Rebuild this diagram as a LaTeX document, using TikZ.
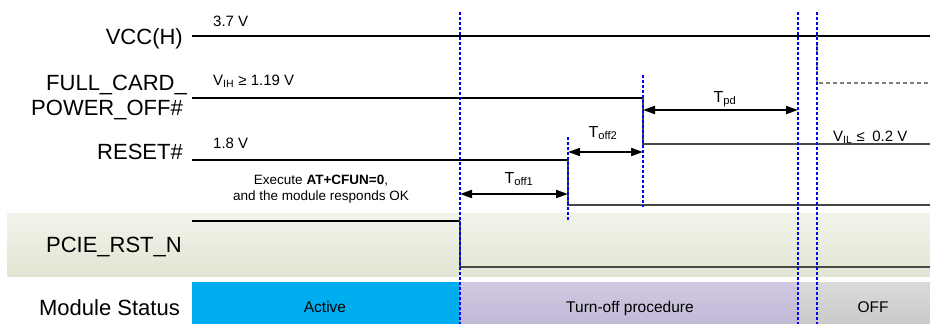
\documentclass[tikz,border=0pt]{standalone}
\usepackage{fontspec}
\setmainfont{Liberation Sans}
\usetikzlibrary{arrows.meta}
% time marks (px)
\newcommand*{\tStart}{192}
\newcommand*{\tCfun}{460}
\newcommand*{\tRst}{568}
\newcommand*{\tOff}{643}
\newcommand*{\tPd}{798}
\newcommand*{\tVcc}{817}
\newcommand*{\xEnd}{930}
% signal levels (px, downwards)
\newcommand*{\yVcc}{36}
\newcommand*{\yFcHi}{98}
\newcommand*{\yFcLo}{144}
\newcommand*{\yRsHi}{160}
\newcommand*{\yRsLo}{205}
\newcommand*{\yPcHi}{221}
\newcommand*{\yPcLo}{267}
\definecolor{bandtop}{RGB}{242,244,234}
\definecolor{bandbot}{RGB}{225,229,210}
\definecolor{activefill}{RGB}{0,174,239}
\definecolor{turntop}{RGB}{209,202,226}
\definecolor{turnbot}{RGB}{193,184,214}
\definecolor{offtop}{RGB}{218,218,218}
\definecolor{offbot}{RGB}{202,202,202}
\tikzset{
  sighi/.style={line width=2.6pt,black},
  siglo/.style={line width=2.2pt,black!72},
  tmark/.style={blue,line width=1.6pt,dash pattern=on 3pt off 2pt},
  tspan/.style={line width=2pt,{Triangle[length=12pt,width=8pt]}-{Triangle[length=12pt,width=8pt]}},
  siglabel/.style={anchor=base east,inner sep=0pt,font=\fontsize{22}{24}\selectfont},
  vlabel/.style={anchor=base west,inner sep=0pt,font=\fontsize{15}{18}\selectfont},
  tlabel/.style={anchor=base,inner sep=0pt,font=\fontsize{16}{18}\selectfont},
  stlabel/.style={anchor=base,inner sep=0pt,font=\fontsize{15.5}{18}\selectfont}
}

\begin{document}
\begin{tikzpicture}[x=1pt,y=-1pt]
    \useasboundingbox (0,0) rectangle (\xEnd,324);
    % backgrounds
    \shade [top color=bandtop,bottom color=bandbot] (7,213) rectangle (\xEnd,276);
    \fill [activefill] (\tStart,282) rectangle (\tCfun,324);
    \shade [top color=turntop,bottom color=turnbot] (\tCfun,282) rectangle (\tPd,324);
    \shade [top color=offtop,bottom color=offbot] (\tPd,282) rectangle (\xEnd,324);

    % signals
    \draw [sighi] (\tStart,\yVcc) -- (\xEnd,\yVcc);
    \draw [sighi] (\tStart,\yFcHi) -- (\tOff,\yFcHi);
    \draw [siglo] (\tOff,\yFcHi) -- (\tOff,\yFcLo) -- (\xEnd,\yFcLo);
    \draw [gray,line width=1.5pt,dash pattern=on 4pt off 3pt] (\tVcc,\yVcc) -- (\tVcc,83) -- (\xEnd,83);
    \draw [sighi] (\tStart,\yRsHi) -- (\tRst,\yRsHi);
    \draw [siglo] (\tRst,\yRsHi) -- (\tRst,\yRsLo) -- (\xEnd,\yRsLo);
    \draw [sighi] (\tStart,\yPcHi) -- (\tCfun,\yPcHi);
    \draw [siglo] (\tCfun,\yPcHi) -- (\tCfun,\yPcLo) -- (\xEnd,\yPcLo);

    % time marks
    \foreach \x/\ya/\yb in {\tCfun/12/324,\tRst/137/220,\tOff/75/207,\tPd/12/324,\tVcc/12/324} {
        \draw [tmark] (\x,\ya) -- (\x,\yb);
    }

    \coordinate (off1a) at (\tCfun,194);
    \coordinate (off1b) at (\tRst,194);
    \coordinate (off2a) at (\tRst,152);
    \coordinate (off2b) at (\tOff,152);
    \coordinate (pda) at (\tOff,110);
    \coordinate (pdb) at (\tPd,110);
    \draw [tspan] (off1a) -- (off1b);
    \draw [tspan] (off2a) -- (off2b);
    \draw [tspan] (pda) -- (pdb);
    \node [tlabel] (toff1) at (519,183) {T\textsubscript{off1}};
    \node [tlabel] (toff2) at (603,137) {T\textsubscript{off2}};
    \node [tlabel] (tpd) at (725,102) {T\textsubscript{pd}};

    % signal names
    \node [siglabel] (vcc) at (183,44) {VCC(H)};
    \node [siglabel] (fullcard) at (187,90) {FULL\_CARD\_};
    \node [siglabel] (poweroff) at (183,115) {POWER\_OFF\#};
    \node [siglabel] (reset) at (183,159) {RESET\#};
    \node [siglabel] (pcierst) at (182,252) {PCIE\_RST\_N};
    \node [siglabel] (status) at (180,315) {Module Status};

    % levels
    \node [vlabel] (v37) at (213,27) {3.7 V};
    \node [vlabel] (vih) at (213,85) {V\textsubscript{IH} ≥ 1.19 V};
    \node [vlabel] (v18) at (213,148) {1.8 V};
    \node [vlabel] (vil) at (833,141) {V\textsubscript{IL} ≤\enspace 0.2 V};

    \node [inner sep=0pt,align=center,font=\fontsize{13.5}{16}\selectfont] (cfun) at (321,189)
        {Execute \textbf{AT+CFUN=0},\\and the module responds OK};

    % module states
    \node [stlabel] (active) at (325,312) {Active};
    \node [stlabel] (turnoff) at (630,312) {Turn-off procedure};
    \node [stlabel] (off) at (873,312) {OFF};
\end{tikzpicture}
\end{document}
